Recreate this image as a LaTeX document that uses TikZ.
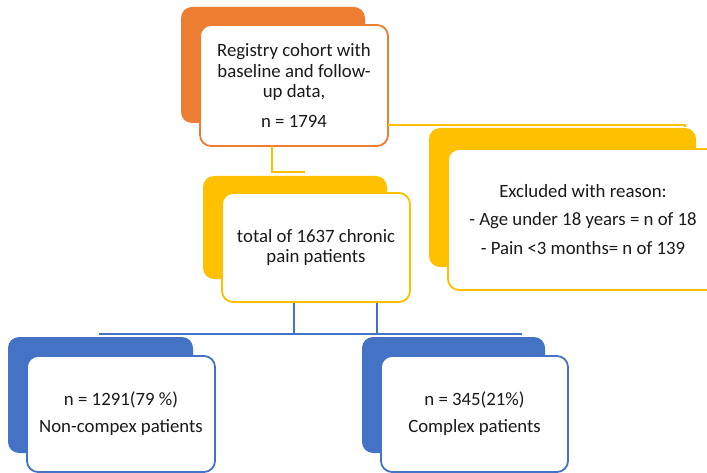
\documentclass[tikz,border=0pt]{standalone}
\usepackage{fontspec}
\setmainfont{Carlito}
\definecolor{myorange}{HTML}{ED7D31}
\definecolor{myyellow}{HTML}{FFC000}
\definecolor{myblue}{HTML}{4472C4}
\definecolor{mytext}{HTML}{1A1A1A}
\begin{document}
\begin{tikzpicture}[x=1pt,y=-1pt,
  backbox/.style={fill=#1, rounded corners=11pt, inner sep=0pt, anchor=center},
  frontbox/.style={draw=#1, line width=1.8pt, fill=white, rounded corners=11pt, inner sep=0pt, anchor=center, align=center, text=mytext, font=\fontsize{18.8}{20.5}\selectfont},
  yconn/.style={draw=myyellow, line width=1.8pt},
  bconn/.style={draw=myblue, line width=1.5pt}]
\useasboundingbox (0,0) rectangle (707,473);
% orange
\node[backbox=myorange, minimum width=184pt, minimum height=116pt] (ob) at (273,65) {};
\node[frontbox=myorange, minimum width=188pt, minimum height=121pt] (of) at (294,85.5) {Registry cohort with\\baseline and follow-\\up data,\\[9pt]n = 1794};
% middle yellow
\node[backbox=myyellow, minimum width=184pt, minimum height=103pt] (mb) at (295,227.5) {};
% excluded
\node[backbox=myyellow, minimum width=267pt, minimum height=139pt] (eb) at (562.5,197.5) {};
% connectors (yellow)
\coordinate (c0) at (272,146);
\coordinate (c1) at (305,172);
\draw[yconn] (c0) |- (c1);
\coordinate (c2) at (388,125);
\coordinate (c3) at (685,125);
\coordinate (c4) at (685,127);
\draw[yconn] (c2) -- (c3) -- (c4);
\node[frontbox=myyellow, minimum width=188pt, minimum height=109pt] (mf) at (316,247.5) {total of 1637 chronic\\pain patients};
\node[frontbox=myyellow, minimum width=270pt, minimum height=141pt] (ef) at (583,219.5) {Excluded with reason:\\[8pt]- Age under 18 years = n of 18\\[8pt]- Pain <3 months= n of 139};
% blue connectors
\coordinate (d1) at (294,334);
\coordinate (d2) at (377,334);
\coordinate (h1) at (99,334);
\coordinate (h2) at (522,334);
\draw[bconn] (mf.south -| d1) -- (d1);
\draw[bconn] (mf.south -| d2) -- (d2);
\draw[bconn] (h1) -- (h2);
% blue boxes
\node[backbox=myblue, minimum width=185pt, minimum height=116pt] (lb) at (100.5,395) {};
\node[frontbox=myblue, minimum width=188pt, minimum height=116pt] (lf) at (121,414) {n = 1291(79 \%)\\[6.5pt]Non-compex patients};
\node[backbox=myblue, minimum width=183pt, minimum height=116pt] (rb) at (453.5,395) {};
\node[frontbox=myblue, minimum width=187pt, minimum height=116pt] (rf) at (474.5,414) {n = 345(21\%)\\[6.5pt]Complex patients};
\end{tikzpicture}
\end{document}
